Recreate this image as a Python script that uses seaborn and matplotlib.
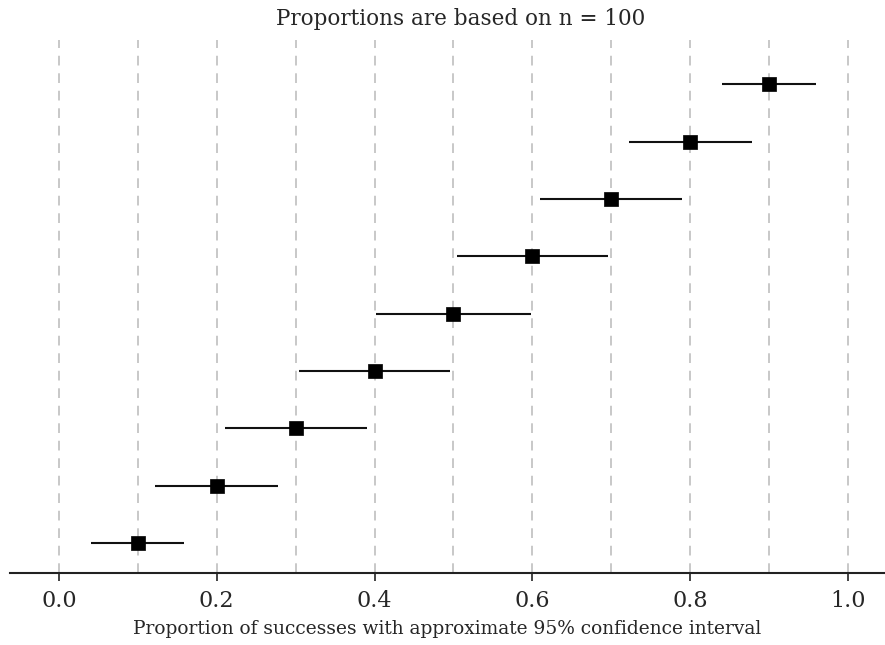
import matplotlib
matplotlib.use("Agg")
import matplotlib.pyplot as plt
import seaborn as sns
import pandas as pd

# Observed proportions (n = 100) and their approximate 95% limits
proportion = [0.1, 0.2, 0.3, 0.4, 0.5, 0.6, 0.7, 0.8, 0.9]
lower = [0.041, 0.122, 0.210, 0.304, 0.402, 0.504, 0.610, 0.722, 0.841]
upper = [0.159, 0.278, 0.390, 0.496, 0.598, 0.696, 0.790, 0.878, 0.959]
row = [1, 2, 3, 4, 5, 6, 7, 8, 9]
ticks = [0.0, 0.2, 0.4, 0.6, 0.8, 1.0]
tick_labels = ["0.0", "0.2", "0.4", "0.6", "0.8", "1.0"]

df = pd.DataFrame({"p": proportion, "lo": lower, "hi": upper, "row": row})

sns.set_theme(style="white")
plt.rcParams["font.family"] = ["DejaVu Serif"]

fig = plt.figure(figsize=(8.85, 6.45), dpi=100)
ax = fig.add_axes([10 / 885, 1 - 573 / 645, 875 / 885, (573 - 40) / 645])

# dashed reference lines every 0.1
for g in [i / 10 for i in range(11)]:
    ax.axvline(g, color="#c8c8c8", lw=1.4, ls=(0, (5, 4)), zorder=0)

ax.hlines(df["row"], df["lo"], df["hi"], color="#111111", lw=1.5, zorder=2)
sns.scatterplot(data=df, x="p", y="row", marker="s", s=100, color="black",
                edgecolor="black", linewidth=0.5, zorder=3, ax=ax)

ax.set_xlim(-0.062, 1.047)
ax.set_ylim(0.477, 9.77)
ax.set_yticks([])
ax.set_ylabel("")
ax.set_xticks(ticks)
ax.set_xticklabels(tick_labels, fontsize=16)
ax.tick_params(axis="x", direction="out", length=6, width=1.2, color="#222222",
               bottom=True, pad=6)
ax.set_xlabel("Proportion of successes with approximate 95% confidence interval",
              fontsize=13.4, labelpad=6)

for side in ["top", "right", "left"]:
    ax.spines[side].set_visible(False)
ax.spines["bottom"].set_color("#222222")
ax.spines["bottom"].set_linewidth(1.5)

fig.text(461 / 885, 1 - 19 / 645, "Proportions are based on n = 100", ha="center",
         va="center", fontsize=15.5)

fig.savefig("out.png", dpi=100)
